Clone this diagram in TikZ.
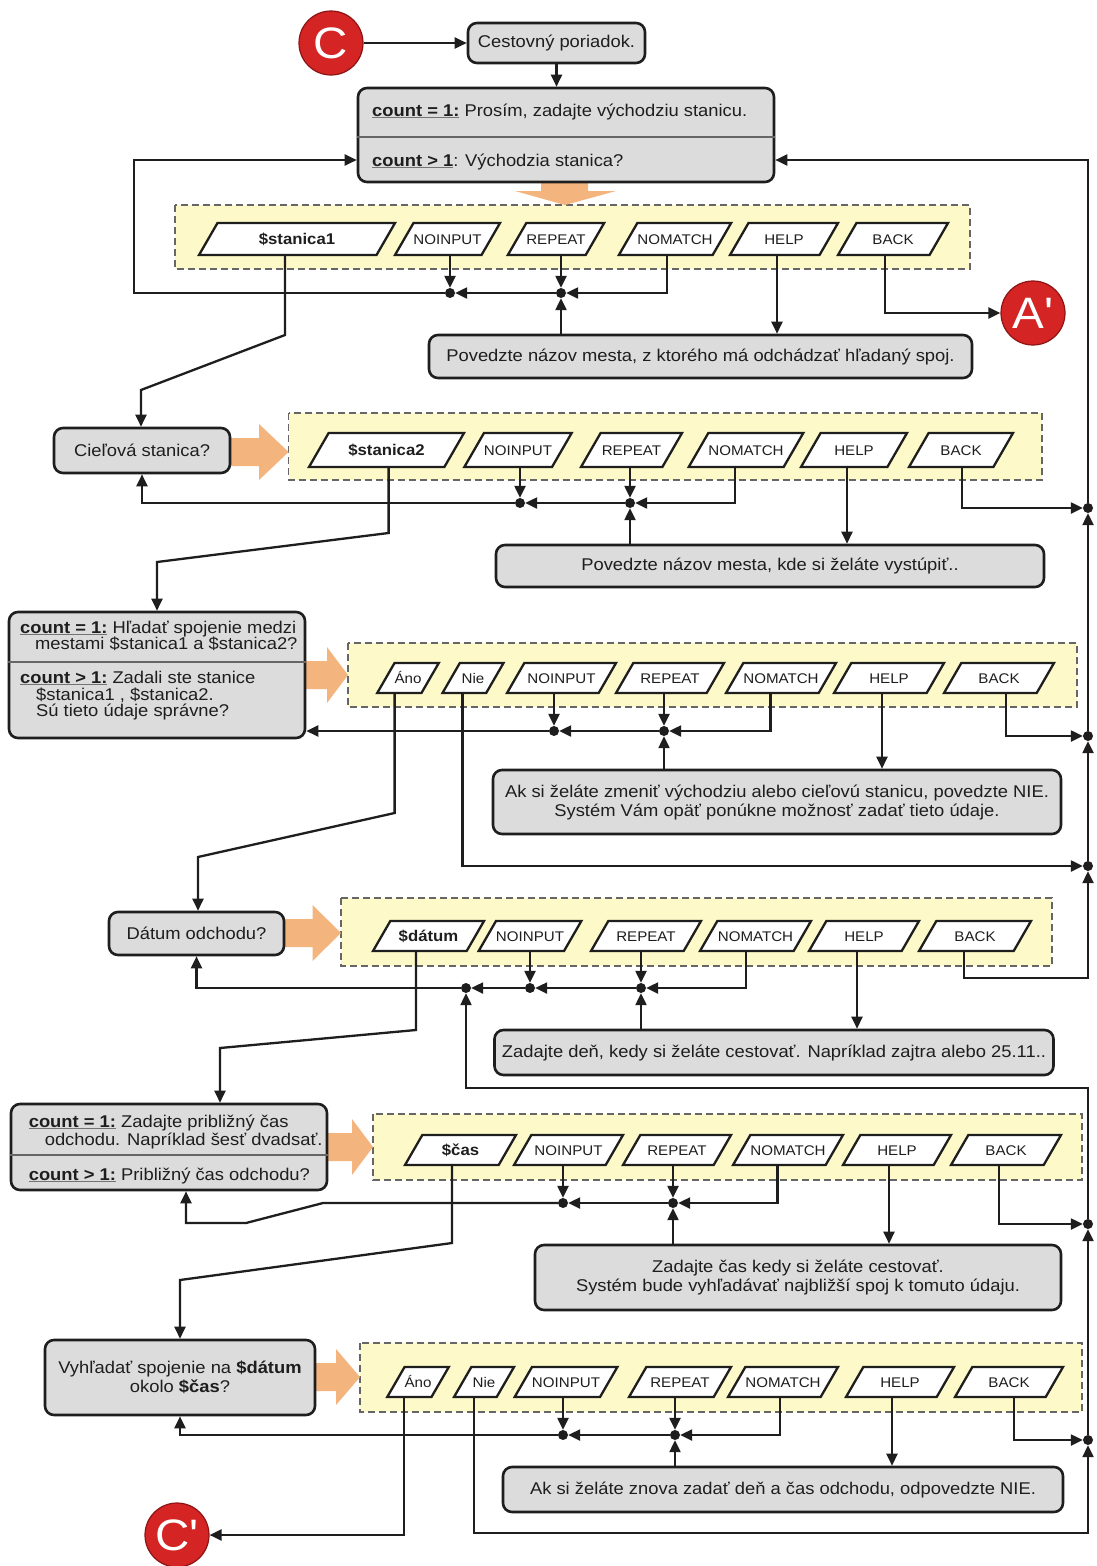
\documentclass[tikz,border=0pt]{standalone}
\usepackage{fontspec}
\setmainfont{Liberation Sans}[FakeStretch=1.08]
\usetikzlibrary{arrows.meta,shapes.geometric}

\definecolor{boxgray}{HTML}{DCDCDC}
\definecolor{paleyellow}{HTML}{FDF9C9}
\definecolor{peach}{HTML}{F4B47E}
\definecolor{signalred}{HTML}{D42424}
\definecolor{darkred}{HTML}{8E1414}
\definecolor{ink}{HTML}{1E1E1E}

\newcommand\mainsize{\fontsize{17}{19}\selectfont}
\newcommand\labsize{\fontsize{14}{16}\selectfont}
\newcommand\varlab{\fontsize{15.5}{17}\selectfont\bfseries}
\newcommand\cntlab[1]{{\color{black!55}\underline{\color{ink}\bfseries #1}}}
% parallelogram input node: name, centre x, centre y, width, height style, label
\newcommand\pgnode[6]{\node[para, #5, minimum width=#4pt] (#1) at (#2,#3) {#6};}
% fat orange arrow pointing right: shaft start, head start, tip, centre y
\newcommand\fatright[4]{\fill[peach] (#1,#4-14) -- (#2,#4-14) -- (#2,#4-28) -- (#3,#4) -- (#2,#4+28) -- (#2,#4+14) -- (#1,#4+14) -- cycle;}

\begin{document}
\begin{tikzpicture}[x=1pt,y=-1pt,
  every node/.style={text=ink},
  box/.style={draw=ink, line width=2.6pt, rounded corners=9pt, fill=boxgray, inner sep=0pt, font=\mainsize, align=center},
  line/.style={anchor=base west, inner sep=0pt, font=\mainsize},
  divider/.style={draw=black!60, line width=1.6pt},
  panel/.style={draw=black!60, dash pattern=on 7pt off 4pt, line width=1.5pt, fill=paleyellow},
  para/.style={trapezium, trapezium left angle=60, trapezium right angle=120, trapezium stretches body=true,
    draw=ink, line width=2.3pt, fill=white, inner sep=0pt, font=\labsize},
  hA/.style={text height=21pt, text depth=11pt},
  hB/.style={text height=22pt, text depth=12pt},
  hC/.style={text height=20pt, text depth=10pt},
  jdot/.style={circle, fill=ink, inner sep=0pt, minimum size=10pt},
  conn/.style={draw=ink, line width=2.3pt},
  arr/.style={conn, -{Triangle[length=12pt,width=11pt]}},
  circ/.style={circle, fill=signalred, draw=darkred, line width=1.2pt, minimum size=64pt, inner sep=0pt,
    text=white, font=\fontsize{44}{44}\selectfont}
]
\fill[white] (0,0) rectangle (1096,1566);
\useasboundingbox (0,0) rectangle (1096,1566);

% ---------- dashed input panels ----------
\draw[panel] (175,205) rectangle (970,269);
\draw[panel] (288.6,413) rectangle (1042,480);
\draw[panel] (348,643) rectangle (1077,707);
\draw[panel] (341,898) rectangle (1052,966);
\draw[panel] (373,1114) rectangle (1082,1180);
\draw[panel] (360,1343) rectangle (1082,1412);

% ---------- orange flow arrows ----------
\fill[peach] (541,178) -- (588,178) -- (588,191) -- (616,191) -- (565,205) -- (515,191) -- (541,191) -- cycle;
\fatright{225}{259}{288.6}{452}
\fatright{300}{327}{348}{675}
\fatright{279}{312.5}{341}{933}
\fatright{322}{352}{373}{1147}
\fatright{310}{336}{360}{1377}

% ---------- section 1: departure station ----------
\node[circ] (C) at (331,43) {C};
\node[box, minimum width=177pt, minimum height=40pt] (cest) at (556.5,43) {Cestovný poriadok.};
\node[box, minimum width=416pt, minimum height=94pt] (cnt1) at (566,135) {};
\draw[divider] (cnt1.west |- 0,137) -- (cnt1.east |- 0,137);
\node[line] (cnt1a) at (372,116) {\cntlab{count = 1:} Prosím, zadajte východziu stanicu.};
\node[line] (cnt1b) at (372,166) {\cntlab{count > 1}: Východzia stanica?};

\pgnode{s1}{297}{239}{196}{hA}{\varlab\$stanica1}
\pgnode{ni1}{447.5}{239}{87}{hA}{NOINPUT}
\pgnode{rp1}{556}{239}{86}{hA}{REPEAT}
\pgnode{nm1}{675}{239}{106}{hA}{NOMATCH}
\pgnode{hp1}{784}{239}{108}{hA}{HELP}
\pgnode{bk1}{893}{239}{110}{hA}{BACK}
\node[jdot] (j11) at (450,293) {};
\node[jdot] (j12) at (561,293) {};
\node[box, minimum width=543pt, minimum height=43pt] (pov1) at (700.5,356.5) {Povedzte názov mesta, z ktorého má odchádzať hľadaný spoj.};
\node[circ] (A1) at (1033,313) {A\textquotesingle};

% ---------- section 2: destination station ----------
\node[box, minimum width=176pt, minimum height=45pt] (ciel) at (142,450.5) {Cieľová stanica?};
\pgnode{s2}{386.5}{450}{155}{hB}{\varlab\$stanica2}
\pgnode{ni2}{518}{450}{96}{hB}{NOINPUT}
\pgnode{rp2}{631.5}{450}{101}{hB}{REPEAT}
\pgnode{nm2}{746}{450}{110}{hB}{NOMATCH}
\pgnode{hp2}{854}{450}{106}{hB}{HELP}
\pgnode{bk2}{961}{450}{104}{hB}{BACK}
\node[jdot] (j21) at (520,503) {};
\node[jdot] (j22) at (630,503) {};
\node[jdot] (r2) at (1088,508) {};
\node[box, minimum width=548pt, minimum height=42pt] (pov2) at (770,566) {Povedzte názov mesta, kde si želáte vystúpiť..};

% ---------- section 3: confirmation of stations ----------
\node[box, minimum width=296pt, minimum height=126pt] (cnt3) at (157,675) {};
\draw[divider] (cnt3.west |- 0,662) -- (cnt3.east |- 0,662);
\node[line] (cnt3a) at (20,633) {\cntlab{count = 1:} Hľadať spojenie medzi};
\node[line] (cnt3b) at (35,649) {mestami \$stanica1 a \$stanica2?};
\node[line] (cnt3c) at (20,683) {\cntlab{count > 1:} Zadali ste stanice};
\node[line] (cnt3d) at (36,700) {\$stanica1 , \$stanica2.};
\node[line] (cnt3e) at (36,716) {Sú tieto údaje správne?};
\pgnode{an3}{408}{678}{59}{hC}{Áno}
\pgnode{ne3}{473}{678}{61}{hC}{Nie}
\pgnode{ni3}{561.5}{678}{109}{hC}{NOINPUT}
\pgnode{rp3}{670}{678}{108}{hC}{REPEAT}
\pgnode{nm3}{781}{678}{110}{hC}{NOMATCH}
\pgnode{hp3}{889}{678}{110}{hC}{HELP}
\pgnode{bk3}{999}{678}{110}{hC}{BACK}
\node[jdot] (j31) at (554,731) {};
\node[jdot] (j32) at (664,731) {};
\node[jdot] (r3) at (1088,736) {};
\node[jdot] (r4) at (1088,866) {};
\node[box, minimum width=568pt, minimum height=64pt] (ak3) at (777,802) {Ak si želáte zmeniť východziu alebo cieľovú stanicu, povedzte NIE.\\Systém Vám opäť ponúkne možnosť zadať tieto údaje.};

% ---------- section 4: date ----------
\node[box, minimum width=175pt, minimum height=43pt] (dat) at (196.5,933.5) {Dátum odchodu?};
\pgnode{sd4}{428.5}{936}{111}{hC}{\varlab\$dátum}
\pgnode{ni4}{530}{936}{100}{hC}{NOINPUT}
\pgnode{rp4}{646}{936}{110}{hC}{REPEAT}
\pgnode{nm4}{755.5}{936}{111}{hC}{NOMATCH}
\pgnode{hp4}{864}{936}{110}{hC}{HELP}
\pgnode{bk4}{975}{936}{112}{hC}{BACK}
\node[jdot] (j40) at (466,988) {};
\node[jdot] (j41) at (530,988) {};
\node[jdot] (j42) at (641,988) {};
\node[box, minimum width=559pt, minimum height=45pt] (zad4) at (774,1052.5) {Zadajte deň, kedy si želáte cestovať. Napríklad zajtra alebo 25.11..};

% ---------- section 5: time ----------
\node[box, minimum width=316pt, minimum height=86pt] (cnt5) at (169,1147) {};
\draw[divider] (cnt5.west |- 0,1155) -- (cnt5.east |- 0,1155);
\node[line] (cnt5a) at (28.6,1127) {\cntlab{count = 1:} Zadajte približný čas};
\node[line] (cnt5b) at (44.6,1145) {odchodu. Napríklad šesť dvadsať.};
\node[line] (cnt5c) at (28.6,1180) {\cntlab{count > 1:} Približný čas odchodu?};
\pgnode{sc5}{460.5}{1150}{111}{hC}{\varlab\$čas}
\pgnode{ni5}{568.5}{1150}{109}{hC}{NOINPUT}
\pgnode{rp5}{677}{1150}{108}{hC}{REPEAT}
\pgnode{nm5}{788}{1150}{106}{hC}{NOMATCH}
\pgnode{hp5}{897}{1150}{108}{hC}{HELP}
\pgnode{bk5}{1006}{1150}{110}{hC}{BACK}
\node[jdot] (j51) at (563,1203) {};
\node[jdot] (j52) at (673,1203) {};
\node[jdot] (r5) at (1088,1224) {};
\node[box, minimum width=526pt, minimum height=65pt] (zad5) at (798,1277.5) {Zadajte čas kedy si želáte cestovať.\\Systém bude vyhľadávať najbližší spoj k tomuto údaju.};

% ---------- section 6: search confirmation ----------
\node[box, minimum width=270pt, minimum height=75pt] (vyh) at (180,1377.5) {Vyhľadať spojenie na \textbf{\$dátum}\\okolo \textbf{\$čas}?};
\pgnode{an6}{418}{1382}{60}{hC}{Áno}
\pgnode{ne6}{484}{1382}{60}{hC}{Nie}
\pgnode{ni6}{566}{1382}{98}{hC}{NOINPUT}
\pgnode{rp6}{680}{1382}{102}{hC}{REPEAT}
\pgnode{nm6}{783}{1382}{98}{hC}{NOMATCH}
\pgnode{hp6}{900}{1382}{108}{hC}{HELP}
\pgnode{bk6}{1009}{1382}{108}{hC}{BACK}
\node[jdot] (j61) at (563,1435) {};
\node[jdot] (j62) at (675,1435) {};
\node[jdot] (r6) at (1088,1440) {};
\node[box, minimum width=560pt, minimum height=45pt] (ak6) at (783,1489.5) {Ak si želáte znova zadať deň a čas odchodu, odpovedzte NIE.};
\node[circ] (C2) at (177,1535) {C\textquotesingle};

% ---------- connectors, section 1 ----------
\draw[arr] (C) -- (cest);
\draw[arr] (cest.south) -- (cest.south |- cnt1.north);
\draw[arr] (ni1.south -| j11) -- (j11);
\draw[arr] (rp1.south -| j12) -- (j12);
\draw[arr] (nm1.south -| 667,0) |- (j12);
\draw[arr] (j12) -- (j11);
\draw[arr] (pov1.north -| j12) -- (j12);
\draw[arr] (hp1.south -| 777,0) -- (pov1.north -| 777,0);
\draw[arr] (bk1.south -| 885,0) |- (A1);
\draw[arr] (j11) -| (134,160) -- (cnt1.west |- 0,160);
\draw[arr] (s1.south -| 285,0) -- (285,335) -- (141,390) -- (ciel.north -| 141,0);
\draw[arr] (r2) -- (1088,160) -- (cnt1.east |- 0,160);

% ---------- connectors, section 2 ----------
\draw[arr] (ni2.south -| j21) -- (j21);
\draw[arr] (rp2.south -| j22) -- (j22);
\draw[arr] (nm2.south -| 735,0) |- (j22);
\draw[arr] (j22) -- (j21);
\draw[arr] (pov2.north -| j22) -- (j22);
\draw[arr] (hp2.south -| 847,0) -- (pov2.north -| 847,0);
\draw[arr] (j21) -| (ciel.south);
\draw[arr] (bk2.south -| 962,0) |- (r2);
\draw[arr] (s2.south -| 388.6,0) -- (388.6,533) -- (157,562) -- (cnt3.north -| 157,0);
\draw[arr] (r3) -- (r2);

% ---------- connectors, section 3 ----------
\draw[arr] (ni3.south -| j31) -- (j31);
\draw[arr] (rp3.south -| j32) -- (j32);
\draw[arr] (nm3.south -| 770.5,0) |- (j32);
\draw[arr] (j32) -- (j31);
\draw[arr] (ak3.north -| j32) -- (j32);
\draw[arr] (hp3.south -| 882,0) -- (ak3.north -| 882,0);
\draw[arr] (j31) -- (cnt3.east |- j31);
\draw[arr] (bk3.south -| 1006,0) |- (r3);
\draw[arr] (ne3.south -| 462.5,0) |- (r4);
\draw[arr] (an3.south -| 394.6,0) -- (394.6,813) -- (198,857) -- (dat.north -| 198,0);
\draw[arr] (r4) -- (r3);

% ---------- connectors, section 4 ----------
\draw[arr] (ni4.south -| j41) -- (j41);
\draw[arr] (rp4.south -| j42) -- (j42);
\draw[arr] (nm4.south -| 746,0) |- (j42);
\draw[arr] (j42) -- (j41);
\draw[arr] (j41) -- (j40);
\draw[arr] (zad4.north -| j42) -- (j42);
\draw[arr] (hp4.south -| 857,0) -- (zad4.north -| 857,0);
\draw[arr] (j40) -| (dat.south);
\draw[arr] (bk4.south -| 964,0) |- (1088,978) -- (r4);
\draw[arr] (sd4.south -| 416,0) -- (416,1030) -- (220,1048) -- (cnt5.north -| 220,0);
\draw[arr] (r5) -- (1088,1088) -- (466,1088) -- (j40);

% ---------- connectors, section 5 ----------
\draw[arr] (ni5.south -| j51) -- (j51);
\draw[arr] (rp5.south -| j52) -- (j52);
\draw[arr] (nm5.south -| 777.6,0) |- (j52);
\draw[arr] (j52) -- (j51);
\draw[arr] (zad5.north -| j52) -- (j52);
\draw[arr] (hp5.south -| 889,0) -- (zad5.north -| 889,0);
\draw[arr] (j51) -- (323,1203) -- (246,1223) -- (186,1223) -- (cnt5.south -| 186,0);
\draw[arr] (bk5.south -| 999,0) |- (r5);
\draw[arr] (sc5.south -| 452,0) -- (452,1243) -- (180,1280) -- (vyh.north);
\draw[arr] (r6) -- (r5);

% ---------- connectors, section 6 ----------
\draw[arr] (ni6.south -| j61) -- (j61);
\draw[arr] (rp6.south -| j62) -- (j62);
\draw[arr] (nm6.south -| 780,0) |- (j62);
\draw[arr] (j62) -- (j61);
\draw[arr] (ak6.north -| j62) -- (j62);
\draw[arr] (hp6.south -| 892,0) -- (ak6.north -| 892,0);
\draw[arr] (j61) -| (vyh.south);
\draw[arr] (bk6.south -| 1014,0) |- (r6);
\draw[arr] (an6.south -| 404,0) |- (C2);
\draw[arr] (ne6.south -| 474,0) |- (1088,1533) -- (r6);
\end{tikzpicture}
\end{document}
